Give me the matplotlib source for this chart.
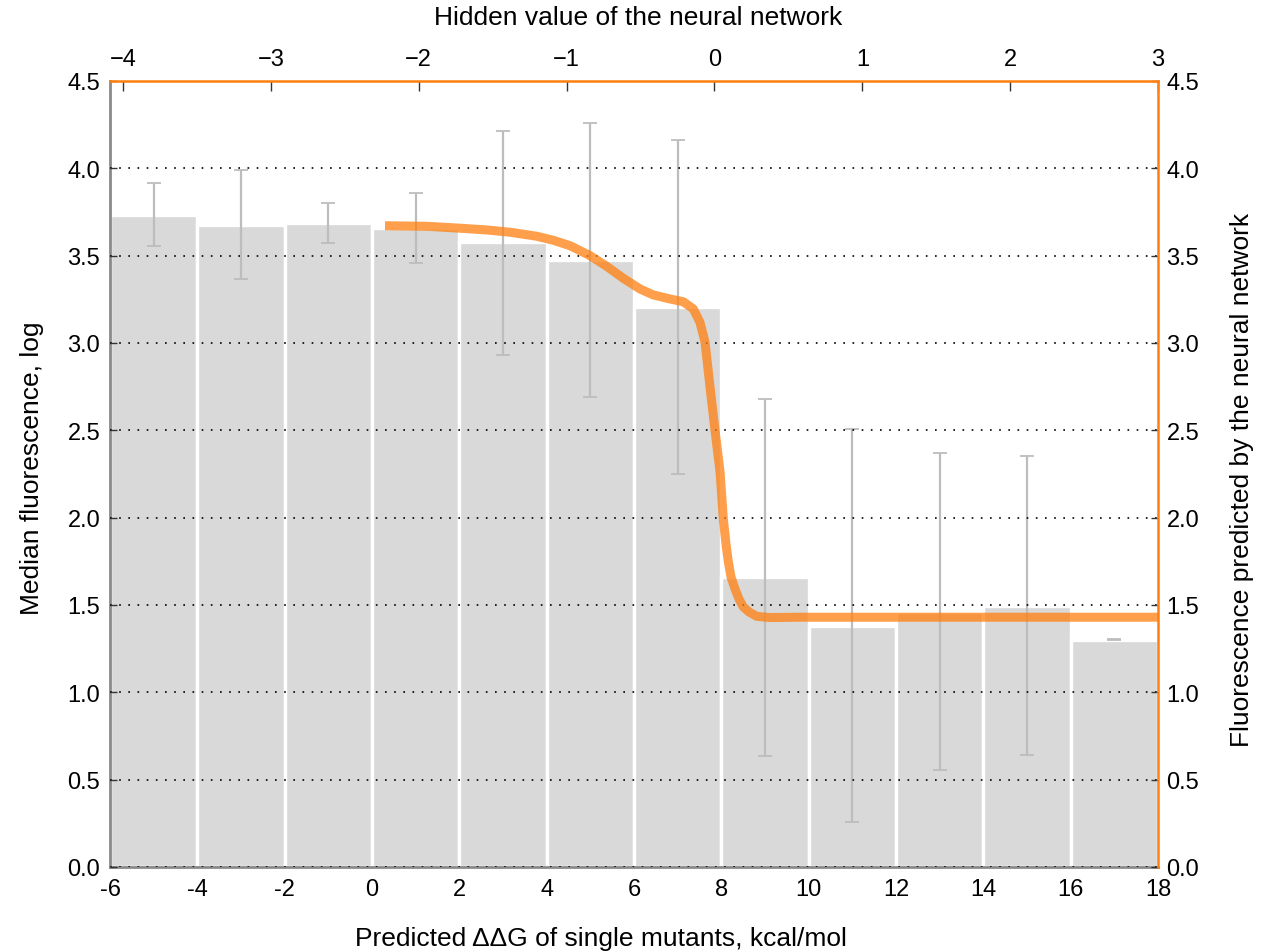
import matplotlib
matplotlib.use("Agg")
import matplotlib.pyplot as plt
import numpy as np

plt.rcParams["font.family"] = ["Liberation Sans", "DejaVu Sans"]
plt.rcParams["font.size"] = 17

# histogram of median fluorescence per ddG bin
bin_left = [-6, -4, -2, 0, 2, 4, 6, 8, 10, 12, 14, 16]
median_fluor = [3.73, 3.675, 3.686, 3.658, 3.578, 3.475, 3.205, 1.66, 1.38, 1.46, 1.494, 1.30]
err_low = [3.555, 3.366, 3.572, 3.457, 2.931, 2.69, 2.25, 0.635, 0.258, 0.555, 0.641, 1.297]
err_high = [3.915, 3.99, 3.80, 3.858, 4.213, 4.259, 4.161, 2.679, 2.507, 2.37, 2.353, 1.303]

# neural network response curve (hidden value -> predicted fluorescence)
hidden_x = [-2.228, -1.946, -1.721, -1.540, -1.383, -1.202, -1.090, -0.977, -0.842,
            -0.729, -0.616, -0.503, -0.414, -0.301, -0.211, -0.143, -0.098, -0.064,
            -0.030, 0.004, 0.038, 0.060, 0.078, 0.094, 0.112, 0.139, 0.166, 0.195,
            0.234, 0.286, 0.376, 0.579, 3.0]
curve_y = [3.671, 3.668, 3.657, 3.647, 3.634, 3.611, 3.588, 3.557, 3.500,
           3.439, 3.370, 3.309, 3.275, 3.252, 3.236, 3.195, 3.118, 3.006,
           2.748, 2.498, 2.261, 1.992, 1.849, 1.746, 1.660, 1.592, 1.534, 1.489,
           1.460, 1.435, 1.428, 1.430, 1.430]

bottom_ticks = [-6, -4, -2, 0, 2, 4, 6, 8, 10, 12, 14, 16, 18]
top_ticks = [-4, -3, -2, -1, 0, 1, 2, 3]
y_ticks = [0.0, 0.5, 1.0, 1.5, 2.0, 2.5, 3.0, 3.5, 4.0, 4.5]

orange = "#ff7f0e"
spine_gray = "#8a8a8a"

fig = plt.figure(figsize=(12.63, 9.53), dpi=100)
rect = [0.0871, 0.0892, 0.8298, 0.8248]
ax = fig.add_axes(rect)

centers = np.array(bin_left) + 1.0
med = np.array(median_fluor)
ax.bar(bin_left, median_fluor, width=2.0, align="edge", color="#d9d9d9",
       edgecolor="white", linewidth=2.4, zorder=1)
ax.errorbar(centers, med, yerr=[med - np.array(err_low), np.array(err_high) - med],
            fmt="none", ecolor="#bdbdbd", elinewidth=1.6, capsize=5,
            capthick=1.3, zorder=2)

ax.set_xlim(-6, 18)
ax.set_ylim(0, 4.5)
ax.set_xticks(bottom_ticks, [str(t) for t in bottom_ticks])
ax.set_yticks(y_ticks, [f"{v:.1f}" for v in y_ticks])
ax.tick_params(axis="x", length=0, pad=8)
ax.tick_params(axis="y", direction="in", length=5, width=1, pad=7, color="#333333")
ax.set_axisbelow(False)
ax.grid(axis="y", color="black", linestyle=(0, (1, 4.5)), linewidth=1.2)
ax.grid(axis="x", visible=False)
for side in ("left", "bottom"):
    ax.spines[side].set_color(spine_gray)
    ax.spines[side].set_linewidth(2.0)
for side in ("top", "right"):
    ax.spines[side].set_visible(False)
ax.set_xlabel("Predicted \u0394\u0394G of single mutants, kcal/mol", fontsize=19)
ax.xaxis.set_label_coords(0.4685, -0.075)
ax.set_ylabel("Median fluorescence, log", fontsize=19)
ax.yaxis.set_label_coords(-0.063, 0.508)

# overlay axes for the network curve: top x and right y
ax2 = fig.add_axes(rect, facecolor="none", label="network")
ax2.plot(hidden_x, curve_y, color=orange, alpha=0.75, linewidth=6.5,
         solid_capstyle="butt", solid_joinstyle="round")
ax2.set_xlim(-4 - 13 / 147.86, 3)
ax2.set_ylim(0, 4.5)
ax2.xaxis.tick_top()
ax2.xaxis.set_label_position("top")
ax2.yaxis.tick_right()
ax2.yaxis.set_label_position("right")
ax2.set_xticks(top_ticks, [str(t).replace("-", "\u2212") for t in top_ticks])
ax2.set_yticks(y_ticks, [f"{v:.1f}" for v in y_ticks])
ax2.tick_params(axis="x", direction="in", length=7, width=1, pad=8, color="#333333")
ax2.tick_params(axis="y", direction="in", length=5, width=1, pad=6, color="#333333")
for side in ("left", "bottom"):
    ax2.spines[side].set_visible(False)
for side in ("top", "right"):
    ax2.spines[side].set_color(orange)
    ax2.spines[side].set_linewidth(1.8)
ax2.set_xlabel("Hidden value of the neural network", fontsize=19)
ax2.xaxis.set_label_coords(0.504, 1.072)
ax2.set_ylabel("Fluorescence predicted by the neural network", fontsize=19)
ax2.yaxis.set_label_coords(1.069, 0.494)

fig.savefig("out.png", dpi=100)
